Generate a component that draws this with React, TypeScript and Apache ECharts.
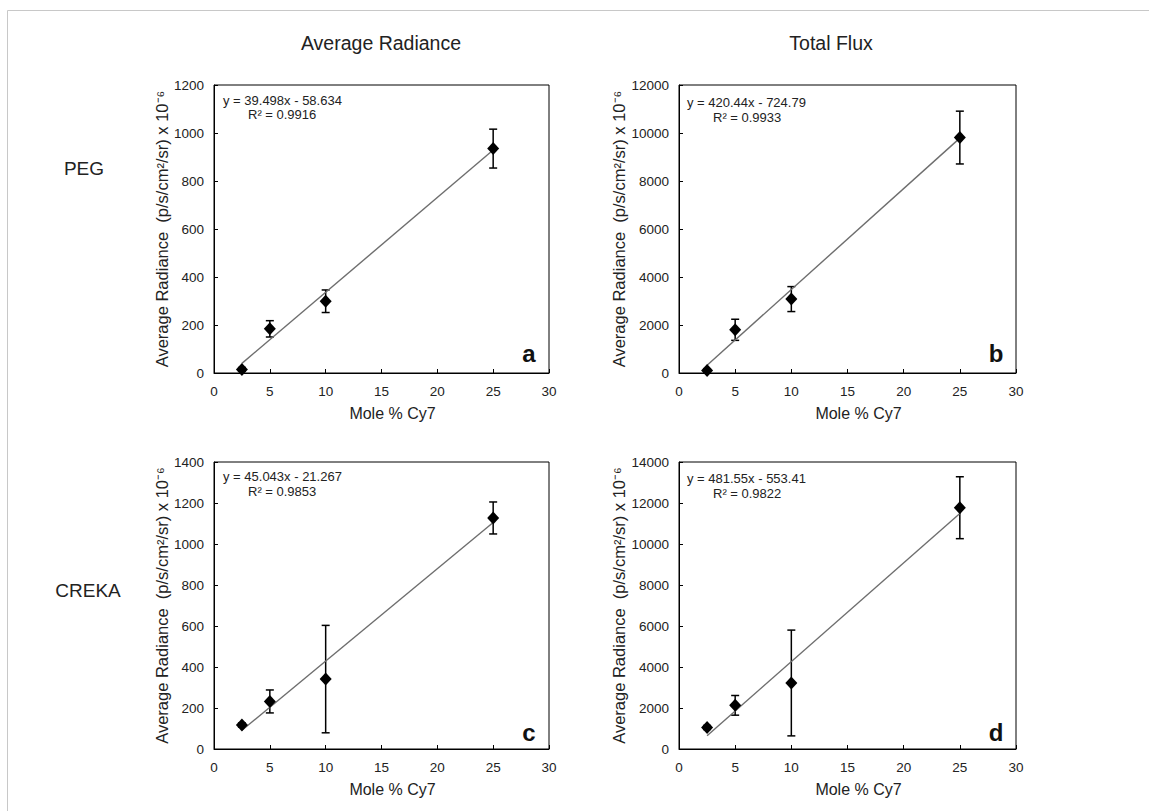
import React, { useEffect, useRef } from "react";
import * as echarts from "echarts";

const molePct = [2.5, 5, 10, 25];
const pegRadiance = [15, 184, 299, 935];
const pegRadianceErr = [8, 34, 47, 81];
const pegFlux = [100, 1800, 3080, 9810];
const pegFluxErr = [80, 440, 520, 1100];
const crekaRadiance = [117, 232, 341, 1127];
const crekaRadianceErr = [10, 56, 262, 78];
const crekaFlux = [1050, 2130, 3220, 11770];
const crekaFluxErr = [100, 480, 2580, 1510];

const fitSlopes = [39.498, 420.44, 45.043, 481.55];
const fitIntercepts = [-58.634, -724.79, -21.267, -553.41];
const fitR2 = ["0.9916", "0.9933", "0.9853", "0.9822"];
const fitRange = [2.5, 25];

const yMax = [1200, 12000, 1400, 14000];
const yInterval = [200, 2000, 200, 2000];
const panelLetters = ["a", "b", "c", "d"];
const columnTitles = ["Average Radiance", "Total Flux"];
const rowLabels = ["PEG", "CREKA"];
const xAxisName = "Mole % Cy7";
const yAxisName = "Average Radiance  (p/s/cm²/sr) x 10⁻⁶";

const panelValues = [pegRadiance, pegFlux, crekaRadiance, crekaFlux];
const panelErrors = [pegRadianceErr, pegFluxErr, crekaRadianceErr, crekaFluxErr];

const FONT = "'Liberation Sans', Arial, sans-serif";
const TXT = "#222";

const grids = [
  { left: 214, top: 85, width: 335, height: 288 },
  { left: 679, top: 85, width: 337, height: 288 },
  { left: 214, top: 462, width: 335, height: 287 },
  { left: 679, top: 462, width: 337, height: 287 },
];
const nameGaps = [39, 48, 42, 47];
const eqPos = [
  { x: 223, y: 100, rx: 248, ry: 114 },
  { x: 687, y: 102, rx: 713, ry: 117 },
  { x: 223, y: 476, rx: 248, ry: 491 },
  { x: 687, y: 478, rx: 713, ry: 493 },
];
const letterPos = [
  { x: 529, y: 353 },
  { x: 996, y: 353 },
  { x: 529, y: 732 },
  { x: 996, y: 732 },
];

export default function App() {
  const ref = useRef<HTMLDivElement>(null);
  useEffect(() => {
    if (!ref.current) return;
    const chart = echarts.init(ref.current, null, { renderer: "svg" });

    const xAxes: any[] = [];
    const yAxes: any[] = [];
    const series: any[] = [];
    const graphics: any[] = [];

    grids.forEach((g, i) => {
      xAxes.push({
        gridIndex: i,
        type: "value",
        min: 0,
        max: 30,
        interval: 5,
        name: xAxisName,
        nameLocation: "middle",
        nameGap: 32,
        nameTextStyle: { fontFamily: FONT, fontSize: 16, color: TXT, padding: [0, 0, 0, 22] },
        axisLine: { lineStyle: { color: "#000", width: 1 } },
        axisTick: { inside: true, length: 4, lineStyle: { color: "#000" } },
        axisLabel: { fontFamily: FONT, fontSize: 13.5, color: TXT, margin: 11 },
        splitLine: { show: false },
      });
      yAxes.push({
        gridIndex: i,
        type: "value",
        min: 0,
        max: yMax[i],
        interval: yInterval[i],
        name: yAxisName,
        nameLocation: "middle",
        nameRotate: 90,
        nameGap: nameGaps[i],
        nameTextStyle: { fontFamily: FONT, fontSize: 16.5, color: TXT },
        axisLine: { show: true, lineStyle: { color: "#000", width: 1 } },
        axisTick: { show: true, inside: true, length: 4, lineStyle: { color: "#000" } },
        axisLabel: {
          fontFamily: FONT,
          fontSize: 13.5,
          color: TXT,
          margin: 10,
          formatter: (v: number) => String(v),
        },
        splitLine: { show: false },
      });

      const vals = panelValues[i];
      const errs = panelErrors[i];
      series.push({
        type: "custom",
        xAxisIndex: i,
        yAxisIndex: i,
        data: molePct.map((x, k) => [x, vals[k] - errs[k], vals[k] + errs[k]]),
        renderItem: (params: any, api: any) => {
          const x = api.value(0);
          const lo = api.coord([x, api.value(1)]);
          const hi = api.coord([x, api.value(2)]);
          const cap = 4;
          const style = { stroke: "#000", lineWidth: 1.5 };
          return {
            type: "group",
            children: [
              { type: "line", shape: { x1: lo[0], y1: lo[1], x2: hi[0], y2: hi[1] }, style },
              { type: "line", shape: { x1: lo[0] - cap, y1: lo[1], x2: lo[0] + cap, y2: lo[1] }, style },
              { type: "line", shape: { x1: hi[0] - cap, y1: hi[1], x2: hi[0] + cap, y2: hi[1] }, style },
            ],
          };
        },
        z: 2,
        silent: true,
      });
      series.push({
        type: "line",
        xAxisIndex: i,
        yAxisIndex: i,
        data: fitRange.map((x) => [x, fitSlopes[i] * x + fitIntercepts[i]]),
        showSymbol: false,
        symbol: "none",
        lineStyle: { color: "#6e6e6e", width: 1.4 },
        z: 3,
        silent: true,
      });
      series.push({
        type: "scatter",
        xAxisIndex: i,
        yAxisIndex: i,
        data: molePct.map((x, k) => [x, vals[k]]),
        symbol: "diamond",
        symbolSize: [12, 13],
        itemStyle: { color: "#000", opacity: 1 },
        z: 4,
        silent: true,
      });

      const sign = fitIntercepts[i] < 0 ? "-" : "+";
      graphics.push({
        type: "text",
        x: eqPos[i].x,
        y: eqPos[i].y,
        style: {
          text: `y = ${fitSlopes[i]}x ${sign} ${Math.abs(fitIntercepts[i])}`,
          font: `13px ${FONT}`,
          fill: TXT,
          textAlign: "left",
          textVerticalAlign: "middle",
        },
      });
      graphics.push({
        type: "text",
        x: eqPos[i].rx,
        y: eqPos[i].ry,
        style: {
          text: `R² = ${fitR2[i]}`,
          font: `13px ${FONT}`,
          fill: TXT,
          textAlign: "left",
          textVerticalAlign: "middle",
        },
      });
      graphics.push({
        type: "text",
        x: letterPos[i].x,
        y: letterPos[i].y,
        style: {
          text: panelLetters[i],
          font: `bold 24px ${FONT}`,
          fill: "#111",
          textAlign: "center",
          textVerticalAlign: "middle",
        },
      });
    });

    graphics.push({
      type: "rect",
      shape: { x: 7.5, y: 10.5, width: 1200, height: 900 },
      style: { fill: "none", stroke: "#c8c8c8", lineWidth: 1 },
      silent: true,
    });
    graphics.push({
      type: "text",
      x: 381,
      y: 43,
      style: { text: columnTitles[0], font: `19.5px ${FONT}`, fill: TXT, textAlign: "center", textVerticalAlign: "middle" },
    });
    graphics.push({
      type: "text",
      x: 831,
      y: 43,
      style: { text: columnTitles[1], font: `19.5px ${FONT}`, fill: TXT, textAlign: "center", textVerticalAlign: "middle" },
    });
    graphics.push({
      type: "text",
      x: 84,
      y: 168,
      style: { text: rowLabels[0], font: `19px ${FONT}`, fill: TXT, textAlign: "center", textVerticalAlign: "middle" },
    });
    graphics.push({
      type: "text",
      x: 88,
      y: 590,
      style: { text: rowLabels[1], font: `19px ${FONT}`, fill: TXT, textAlign: "center", textVerticalAlign: "middle" },
    });

    chart.setOption({
      animation: false,
      backgroundColor: "#fff",
      grid: grids.map((g) => ({ ...g, show: true, borderColor: "#000", borderWidth: 1, backgroundColor: "transparent" })),
      xAxis: xAxes,
      yAxis: yAxes,
      series,
      graphic: graphics,
    });
    return () => chart.dispose();
  }, []);
  return (
    <div
      ref={ref}
      style={{ position: "fixed", left: 0, top: 0, width: 1149, height: 811 }}
    />
  );
}
